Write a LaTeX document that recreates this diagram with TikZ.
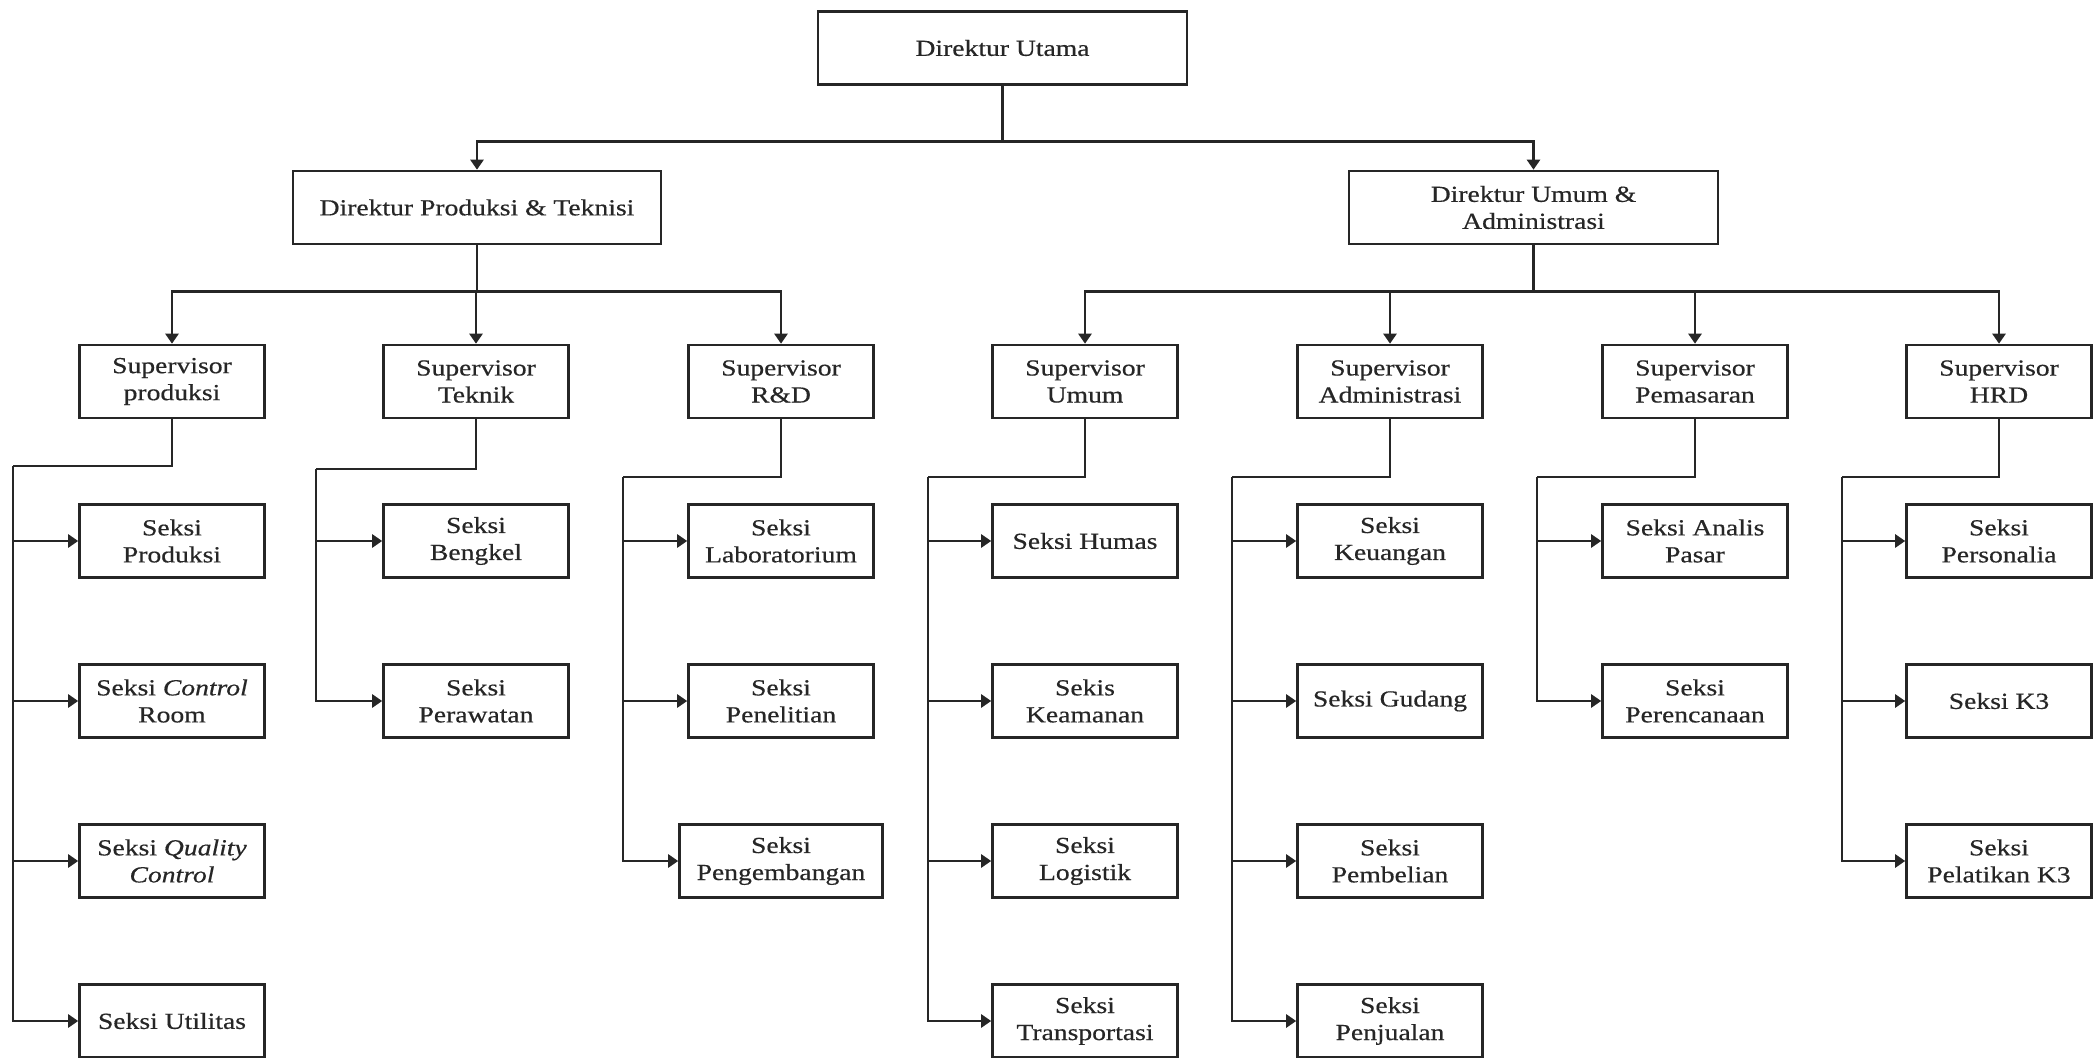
\documentclass[tikz,border=0pt]{standalone}
\usepackage{fontspec}
\setmainfont[FakeStretch=1.2,FakeBold=0.5]{Liberation Serif}
\usetikzlibrary{arrows.meta}
\begin{document}
\begin{tikzpicture}[x=0.5pt,y=-0.5pt,
  box/.style={draw=black!85,line width=1.3pt,minimum width=92.5pt,minimum height=36.5pt,inner sep=0pt,align=center,text=black!85,font=\fontsize{11.5pt}{13.5pt}\selectfont},
  widebox/.style={box,minimum width=101.5pt},
  conn/.style={draw=black!85,line width=1.3pt},
  arr/.style={conn,-{Triangle[length=5pt,width=6.5pt]}}]
\fill[white] (0,0) rectangle (2098,1058);
\useasboundingbox (0,0) rectangle (2098,1058);

% top levels
\node[box,minimum width=184.5pt,minimum height=36.25pt] (du) at (1002.5,48) {Direktur Utama};
\node[box,minimum width=184pt] (dp) at (477,207.5) {Direktur Produksi \& Teknisi};
\node[box,minimum width=184.5pt] (da) at (1533.5,207.5) {Direktur Umum \&\\Administrasi};

% supervisors
\node[box] (sp) at (172,381.5) {Supervisor\\produksi};
\node[box] (st) at (476,381.5) {Supervisor\\Teknik};
\node[box] (sr) at (781,381.5) {Supervisor\\R\&D};
\node[box] (su) at (1085,381.5) {Supervisor\\Umum};
\node[box] (sa) at (1390,381.5) {Supervisor\\Administrasi};
\node[box] (sm) at (1695,381.5) {Supervisor\\Pemasaran};
\node[box] (sh) at (1999,381.5) {Supervisor\\HRD};

% seksi: produksi
\node[box] (p1) at (172,541) {Seksi\\Produksi};
\node[box] (p2) at (172,701) {Seksi \textit{Control}\\Room};
\node[box] (p3) at (172,861) {Seksi \textit{Quality}\\\textit{Control}};
\node[box] (p4) at (172,1021) {Seksi Utilitas};
% teknik
\node[box] (t1) at (476,541) {Seksi\\Bengkel};
\node[box] (t2) at (476,701) {Seksi\\Perawatan};
% R&D
\node[box] (r1) at (781,541) {Seksi\\Laboratorium};
\node[box] (r2) at (781,701) {Seksi\\Penelitian};
\node[widebox] (r3) at (781,861) {Seksi\\Pengembangan};
% umum
\node[box] (u1) at (1085,541) {Seksi Humas};
\node[box] (u2) at (1085,701) {Sekis\\Keamanan};
\node[box] (u3) at (1085,861) {Seksi\\Logistik};
\node[box] (u4) at (1085,1021) {Seksi\\Transportasi};
% administrasi
\node[box] (a1) at (1390,541) {Seksi\\Keuangan};
\node[box] (a2) at (1390,701) {Seksi Gudang};
\node[box] (a3) at (1390,861) {Seksi\\Pembelian};
\node[box] (a4) at (1390,1021) {Seksi\\Penjualan};
% pemasaran
\node[box] (m1) at (1695,541) {Seksi Analis\\Pasar};
\node[box] (m2) at (1695,701) {Seksi\\Perencanaan};
% HRD
\node[box] (h1) at (1999,541) {Seksi\\Personalia};
\node[box] (h2) at (1999,701) {Seksi K3};
\node[box] (h3) at (1999,861) {Seksi\\Pelatikan K3};

% level connectors
\draw[arr] (du.south) -- ++(0,56) -| (dp.north);
\draw[arr] (du.south) -- ++(0,56) -| (da.north);
\foreach \s in {sp,st,sr}{\draw[arr] (dp.south) -- ++(0,46) -| (\s.north);}
\foreach \s in {su,sa,sm,sh}{\draw[arr] (da.south) -- ++(0,46) -| (\s.north);}

% bus corners
\coordinate (bp) at (13,466);
\coordinate (bt) at (316,469);
\coordinate (br) at (623,477);
\coordinate (bu) at (928,477);
\coordinate (ba) at (1232,477);
\coordinate (bm) at (1537,477);
\coordinate (bh) at (1842,477);

\draw[conn] (sp.south) |- (bp);
\draw[conn] (st.south) |- (bt);
\draw[conn] (sr.south) |- (br);
\draw[conn] (su.south) |- (bu);
\draw[conn] (sa.south) |- (ba);
\draw[conn] (sm.south) |- (bm);
\draw[conn] (sh.south) |- (bh);

\foreach \n in {p1,p2,p3,p4}{\draw[arr] (bp) |- (\n.west);}
\foreach \n in {t1,t2}{\draw[arr] (bt) |- (\n.west);}
\foreach \n in {r1,r2,r3}{\draw[arr] (br) |- (\n.west);}
\foreach \n in {u1,u2,u3,u4}{\draw[arr] (bu) |- (\n.west);}
\foreach \n in {a1,a2,a3,a4}{\draw[arr] (ba) |- (\n.west);}
\foreach \n in {m1,m2}{\draw[arr] (bm) |- (\n.west);}
\foreach \n in {h1,h2,h3}{\draw[arr] (bh) |- (\n.west);}
\end{tikzpicture}
\end{document}
